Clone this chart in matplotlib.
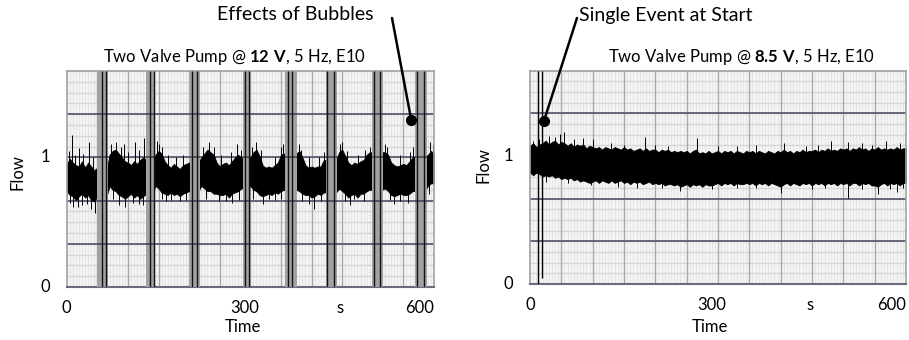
import numpy as np
import matplotlib.pyplot as plt

plt.rcParams['font.family'] = ['Lato', 'DejaVu Sans']
plt.rcParams['mathtext.fontset'] = 'custom'
plt.rcParams['mathtext.rm'] = 'Lato'
plt.rcParams['mathtext.bf'] = 'Lato:bold'

# === Data (flow vs time, 5 s steps) ===
t = np.arange(0, 605, 5)

# Left panel: 12 V
left_upper = [0.95, 0.99, 0.96, 0.94, 0.93, 0.97, 0.92, 0.96, 0.93, 0.90,
              0.92, 0.90, 0.90, 0.90, 1.02, 1.05, 1.06, 1.03, 1.00, 0.97,
              0.96, 0.94, 0.97, 0.95, 0.98, 1.00, 0.98, 0.98, 0.98, 1.02,
              1.05, 1.03, 0.97, 0.94, 0.92, 0.95, 0.93, 0.91, 0.94, 0.95,
              0.96, 0.96, 0.96, 0.96, 1.00, 1.03, 1.06, 1.04, 1.02, 0.96,
              0.93, 0.95, 0.96, 0.94, 0.97, 1.00, 1.02, 1.00, 1.00, 1.00,
              1.00, 1.04, 1.06, 1.01, 0.94, 0.92, 0.93, 0.92, 0.94, 0.96,
              1.02, 1.03, 1.03, 1.03, 1.03, 1.03, 1.05, 1.00, 0.94, 0.92,
              0.93, 0.92, 0.93, 0.93, 0.98, 0.98, 0.98, 0.98, 0.98, 1.04,
              1.06, 1.01, 0.96, 0.94, 0.96, 0.95, 0.97, 0.98, 1.02, 1.04,
              1.04, 1.04, 1.04, 1.04, 1.04, 1.02, 0.96, 0.94, 0.93, 0.94,
              0.95, 0.94, 0.97, 1.00, 1.00, 1.00, 1.00, 1.00, 1.02, 1.05,
              1.03]
left_lower = [0.74, 0.71, 0.70, 0.67, 0.70, 0.72, 0.69, 0.71, 0.67, 0.66,
              0.70, 0.70, 0.70, 0.70, 0.78, 0.75, 0.74, 0.71, 0.70, 0.68,
              0.70, 0.72, 0.69, 0.71, 0.68, 0.70, 0.72, 0.72, 0.72, 0.78,
              0.76, 0.73, 0.72, 0.71, 0.73, 0.71, 0.72, 0.70, 0.72, 0.73,
              0.74, 0.74, 0.74, 0.74, 0.78, 0.76, 0.74, 0.74, 0.72, 0.72,
              0.71, 0.71, 0.72, 0.69, 0.72, 0.73, 0.74, 0.76, 0.76, 0.76,
              0.78, 0.75, 0.74, 0.71, 0.70, 0.71, 0.72, 0.71, 0.73, 0.72,
              0.74, 0.75, 0.75, 0.75, 0.75, 0.75, 0.74, 0.72, 0.71, 0.71,
              0.69, 0.70, 0.72, 0.71, 0.73, 0.73, 0.73, 0.73, 0.73, 0.76,
              0.74, 0.72, 0.69, 0.71, 0.72, 0.69, 0.72, 0.72, 0.74, 0.75,
              0.75, 0.75, 0.75, 0.75, 0.76, 0.74, 0.71, 0.70, 0.71, 0.72,
              0.71, 0.71, 0.72, 0.74, 0.74, 0.74, 0.74, 0.74, 0.78, 0.80,
              0.80]
left_spikes_up = [(3, 1.05), (8, 1.17), (14, 1.02), (20, 1.07), (27, 1.03), (36, 1.12),
                  (43, 1.00), (73, 1.10), (80, 1.12), (88, 1.08), (93, 1.10), (100, 1.04),
                  (112, 1.12), (118, 1.06), (126, 1.15), (148, 1.13), (150, 1.10),
                  (156, 1.08), (165, 1.02), (178, 1.00), (190, 1.02), (222, 1.08),
                  (232, 1.12), (240, 1.08), (252, 1.02), (268, 1.04), (278, 1.10),
                  (284, 1.06), (303, 1.08), (310, 1.12), (318, 1.06), (340, 1.00),
                  (350, 1.08), (354, 1.10), (380, 1.10), (383, 1.06), (395, 1.00),
                  (412, 1.00), (420, 1.04), (446, 1.10), (450, 1.12), (458, 1.05),
                  (476, 1.02), (488, 1.06), (495, 1.08), (520, 1.10), (524, 1.08),
                  (545, 1.02), (560, 1.04), (566, 1.08), (593, 1.12), (598, 1.10)]
left_spikes_down = [(5, 0.65), (10, 0.62), (18, 0.62), (25, 0.63), (33, 0.64), (40, 0.60),
                    (47, 0.57), (75, 0.68), (85, 0.63), (95, 0.62), (108, 0.65),
                    (118, 0.64), (125, 0.63), (155, 0.68), (162, 0.66), (170, 0.67),
                    (185, 0.66), (195, 0.67), (228, 0.68), (248, 0.66), (260, 0.66),
                    (270, 0.65), (282, 0.67), (305, 0.68), (320, 0.64), (330, 0.68),
                    (340, 0.67), (350, 0.68), (385, 0.66), (395, 0.64), (404, 0.60),
                    (415, 0.66), (455, 0.66), (462, 0.63), (470, 0.68), (485, 0.66),
                    (528, 0.67), (535, 0.64), (545, 0.66), (558, 0.65), (592, 0.72)]
# bubble events: (start, end) of the grey band and the full-height traces inside
left_bands = [(50, 68), (130, 145), (201, 218), (288, 300),
              (356, 376), (423, 441), (498, 516), (569, 589)]
left_event_lines = [57, 64, 136, 142, 205, 213, 291, 298,
                    361, 368, 426, 436, 502, 512, 573, 583]

# Right panel: 8.5 V
right_upper = [1.08, 1.10, 1.07, 1.09, 1.10, 1.12, 1.09, 1.11, 1.12, 1.09,
               1.11, 1.10, 1.08, 1.10, 1.07, 1.09, 1.08, 1.09, 1.06, 1.08,
               1.07, 1.06, 1.07, 1.05, 1.07, 1.06, 1.05, 1.07, 1.06, 1.05,
               1.07, 1.05, 1.06, 1.04, 1.05, 1.06, 1.04, 1.06, 1.04, 1.05,
               1.05, 1.03, 1.05, 1.04, 1.05, 1.03, 1.04, 1.03, 1.04, 1.03,
               1.04, 1.02, 1.04, 1.05, 1.02, 1.03, 1.02, 1.04, 1.02, 1.03,
               1.04, 1.02, 1.04, 1.03, 1.04, 1.02, 1.04, 1.03, 1.02, 1.04,
               1.03, 1.04, 1.02, 1.04, 1.03, 1.02, 1.04, 1.03, 1.02, 1.04,
               1.03, 1.05, 1.03, 1.04, 1.02, 1.04, 1.03, 1.05, 1.03, 1.04,
               1.04, 1.05, 1.03, 1.05, 1.04, 1.06, 1.04, 1.05, 1.04, 1.06,
               1.05, 1.06, 1.04, 1.06, 1.05, 1.07, 1.05, 1.06, 1.04, 1.06,
               1.05, 1.07, 1.05, 1.06, 1.05, 1.06, 1.05, 1.07, 1.05, 1.06,
               1.06]
right_lower = [0.87, 0.85, 0.87, 0.86, 0.84, 0.85, 0.84, 0.85, 0.83, 0.84,
               0.82, 0.83, 0.82, 0.83, 0.81, 0.82, 0.80, 0.81, 0.80, 0.79,
               0.80, 0.81, 0.79, 0.81, 0.80, 0.79, 0.81, 0.79, 0.80, 0.81,
               0.79, 0.80, 0.78, 0.80, 0.79, 0.80, 0.78, 0.79, 0.80, 0.78,
               0.79, 0.78, 0.79, 0.77, 0.78, 0.78, 0.77, 0.78, 0.76, 0.77,
               0.78, 0.76, 0.78, 0.77, 0.78, 0.76, 0.78, 0.77, 0.77, 0.78,
               0.79, 0.77, 0.79, 0.78, 0.79, 0.77, 0.79, 0.78, 0.78, 0.79,
               0.78, 0.79, 0.77, 0.79, 0.78, 0.79, 0.77, 0.79, 0.78, 0.77,
               0.76, 0.78, 0.79, 0.77, 0.79, 0.78, 0.77, 0.79, 0.78, 0.79,
               0.77, 0.79, 0.78, 0.79, 0.77, 0.79, 0.78, 0.79, 0.77, 0.79,
               0.78, 0.79, 0.77, 0.79, 0.79, 0.77, 0.79, 0.78, 0.79, 0.77,
               0.77, 0.76, 0.78, 0.79, 0.77, 0.79, 0.78, 0.79, 0.77, 0.79,
               0.79]
right_spikes_up = [(5, 1.12), (15, 1.13), (30, 1.16), (40, 1.15), (48, 1.17), (55, 1.19),
                   (70, 1.13), (85, 1.14), (100, 1.13), (130, 1.10), (150, 1.09),
                   (183, 1.15), (200, 1.09), (220, 1.08), (266, 1.14), (300, 1.08),
                   (330, 1.08), (360, 1.09), (406, 1.10), (440, 1.08), (460, 1.09),
                   (480, 1.12), (507, 1.11), (530, 1.10), (545, 1.09), (568, 1.12),
                   (590, 1.10), (600, 1.09)]
right_spikes_down = [(25, 0.80), (60, 0.79), (98, 0.77), (140, 0.76), (170, 0.75),
                     (210, 0.75), (240, 0.73), (290, 0.74), (330, 0.75), (360, 0.75),
                     (401, 0.71), (450, 0.74), (470, 0.75), (507, 0.67), (530, 0.74),
                     (555, 0.70), (575, 0.74), (585, 0.72), (595, 0.75)]
right_bands = []
right_event_lines = [(12, 0.0), (19, 0.05)]   # (time, lowest flow)

YMAX = 5 / 3
XMAX = 600


def draw_panel(ax, upper, lower, spikes_up, spikes_down, bands):
    ax.set_facecolor('#f4f4f4')
    ax.set_xlim(0, XMAX)
    ax.set_ylim(0, YMAX)
    # chart-recorder style grid
    for x in np.arange(0, XMAX, 5):
        ax.axvline(x, color='#e0e0e0', lw=0.5, zorder=0)
    for y in np.arange(0, YMAX, 1 / 12):
        ax.axhline(y, color='#d6d6d6', lw=1.0, zorder=0.5)
    for x in np.arange(50, XMAX, 50):
        ax.axvline(x, color='#a8a8a8', lw=1.0, zorder=0.6)
    major_y = np.arange(1 / 3, YMAX - 0.01, 1 / 3)
    for y in major_y:
        ax.axhline(y, color='#5c5c72', lw=1.3, zorder=0.7)

    up = np.array(upper)
    lo = np.array(lower)
    ax.fill_between(t, lo, up, color='black', lw=0.6, edgecolor='black', zorder=2)
    xs = [s[0] for s in spikes_up]
    ax.vlines(xs, np.interp(xs, t, up) - 0.02, [s[1] for s in spikes_up],
              color='black', lw=0.7, zorder=2)
    xs = [s[0] for s in spikes_down]
    ax.vlines(xs, [s[1] for s in spikes_down], np.interp(xs, t, lo) + 0.02,
              color='black', lw=0.7, zorder=2)
    for a, b in bands:
        ax.axvspan(a, b, color='#a2a2a2', lw=0, zorder=3)
        ax.hlines(major_y, a, b, color='#4c4c60', lw=1.3, zorder=3.5)

    ax.set_xticks([])
    ax.set_yticks([])
    for side in ['left', 'right', 'top']:
        ax.spines[side].set_color('#a0a0a8')
        ax.spines[side].set_linewidth(1.2)
    ax.spines['bottom'].set_color('#6a6a7c')
    ax.spines['bottom'].set_linewidth(1.5)

    # tick labels as placed in the original chart
    for x, lab, ha in [(0, '0', 'center'), (290, '300', 'center'),
                       (447, 's', 'center'), (XMAX, '600', 'right')]:
        ax.text(x, -0.1, lab, ha=ha, va='top', fontsize=12)
    ax.text(-0.045, 0, '0', ha='right', va='center', fontsize=12,
            transform=ax.get_yaxis_transform())
    ax.text(-0.045, 1, '1', ha='right', va='center', fontsize=12,
            transform=ax.get_yaxis_transform())


fig = plt.figure(figsize=(9.09, 3.40), dpi=100)
ax1 = fig.add_axes([66.7 / 909, 53 / 340, 367.3 / 909, 216 / 340])
ax2 = fig.add_axes([530 / 909, 56 / 340, 376 / 909, 213.3 / 340])

draw_panel(ax1, left_upper, left_lower, left_spikes_up, left_spikes_down, left_bands)
ax1.vlines(left_event_lines, 0, YMAX, color='#111111', lw=1.0, zorder=4)

draw_panel(ax2, right_upper, right_lower, right_spikes_up, right_spikes_down, right_bands)
ax2.vlines([e[0] for e in right_event_lines], [e[1] for e in right_event_lines], YMAX,
           color='black', lw=1.0, zorder=4)

fig.text(17 / 909, 1 - 172 / 340, 'Flow', rotation=90, ha='center', va='center', fontsize=12)
fig.text(483 / 909, 1 - 165 / 340, 'Flow', rotation=90, ha='center', va='center', fontsize=12)
fig.text(243 / 909, 1 - 327 / 340, 'Time', ha='center', va='center', fontsize=12)
fig.text(710 / 909, 1 - 327 / 340, 'Time', ha='center', va='center', fontsize=12)

fig.text(235 / 909, 1 - 57 / 340, r'Two Valve Pump @ $\mathbf{12\ V}$, 5 Hz, E10',
         ha='center', va='center', fontsize=12)
fig.text(742 / 909, 1 - 57 / 340, r'Two Valve Pump @ $\mathbf{8.5\ V}$, 5 Hz, E10',
         ha='center', va='center', fontsize=12)

# callouts
fig.text(295 / 909, 1 - 15 / 340, 'Effects of Bubbles', ha='center', va='center', fontsize=14)
fig.text(666 / 909, 1 - 15 / 340, 'Single Event at Start', ha='center', va='center', fontsize=14)

ax1.annotate('', xy=(563, 1.285), xycoords='data',
             xytext=(392 / 909, 1 - 18 / 340), textcoords='figure fraction',
             arrowprops=dict(arrowstyle='-', color='black', lw=1.8, shrinkA=0, shrinkB=0),
             annotation_clip=False)
ax1.plot([563], [1.285], 'o', color='black', ms=7, zorder=6, clip_on=False)
ax2.annotate('', xy=(22, 1.27), xycoords='data',
             xytext=(577 / 909, 1 - 18 / 340), textcoords='figure fraction',
             arrowprops=dict(arrowstyle='-', color='black', lw=1.8, shrinkA=0, shrinkB=0),
             annotation_clip=False)
ax2.plot([22], [1.27], 'o', color='black', ms=7, zorder=6, clip_on=False)

plt.savefig('out.png', dpi=100)
